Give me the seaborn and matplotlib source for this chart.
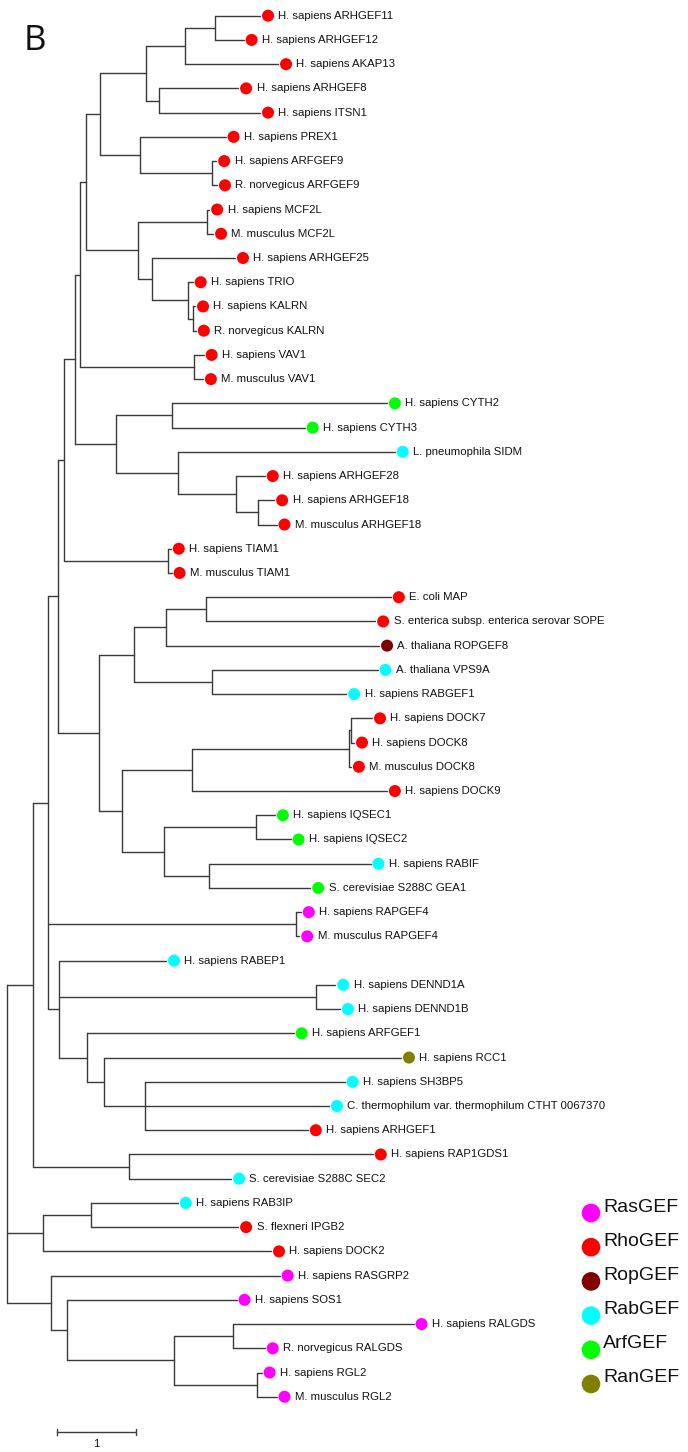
import numpy as np
import pandas as pd
import seaborn as sns
import matplotlib.pyplot as plt

# leaves, top to bottom
leaf_names = [
    "H. sapiens ARHGEF11", "H. sapiens ARHGEF12", "H. sapiens AKAP13",
    "H. sapiens ARHGEF8", "H. sapiens ITSN1", "H. sapiens PREX1",
    "H. sapiens ARFGEF9", "R. norvegicus ARFGEF9", "H. sapiens MCF2L",
    "M. musculus MCF2L", "H. sapiens ARHGEF25", "H. sapiens TRIO",
    "H. sapiens KALRN", "R. norvegicus KALRN", "H. sapiens VAV1",
    "M. musculus VAV1", "H. sapiens CYTH2", "H. sapiens CYTH3",
    "L. pneumophila SIDM", "H. sapiens ARHGEF28", "H. sapiens ARHGEF18",
    "M. musculus ARHGEF18", "H. sapiens TIAM1", "M. musculus TIAM1",
    "E. coli MAP", "S. enterica subsp. enterica serovar SOPE",
    "A. thaliana ROPGEF8", "A. thaliana VPS9A", "H. sapiens RABGEF1",
    "H. sapiens DOCK7", "H. sapiens DOCK8", "M. musculus DOCK8",
    "H. sapiens DOCK9", "H. sapiens IQSEC1", "H. sapiens IQSEC2",
    "H. sapiens RABIF", "S. cerevisiae S288C GEA1", "H. sapiens RAPGEF4",
    "M. musculus RAPGEF4", "H. sapiens RABEP1", "H. sapiens DENND1A",
    "H. sapiens DENND1B", "H. sapiens ARFGEF1", "H. sapiens RCC1",
    "H. sapiens SH3BP5", "C. thermophilum var. thermophilum CTHT 0067370",
    "H. sapiens ARHGEF1", "H. sapiens RAP1GDS1", "S. cerevisiae S288C SEC2",
    "H. sapiens RAB3IP", "S. flexneri IPGB2", "H. sapiens DOCK2",
    "H. sapiens RASGRP2", "H. sapiens SOS1", "H. sapiens RALGDS",
    "R. norvegicus RALGDS", "H. sapiens RGL2", "M. musculus RGL2",
]

leaf_groups = [
    "RhoGEF"] * 16 + [
    "ArfGEF", "ArfGEF", "RabGEF", "RhoGEF", "RhoGEF", "RhoGEF", "RhoGEF",
    "RhoGEF", "RhoGEF", "RhoGEF", "RopGEF", "RabGEF", "RabGEF", "RhoGEF",
    "RhoGEF", "RhoGEF", "RhoGEF", "ArfGEF", "ArfGEF", "RabGEF", "ArfGEF",
    "RasGEF", "RasGEF", "RabGEF", "RabGEF", "RabGEF", "ArfGEF", "RanGEF",
    "RabGEF", "RabGEF", "RhoGEF", "RhoGEF", "RabGEF", "RabGEF", "RhoGEF",
    "RhoGEF", "RasGEF", "RasGEF", "RasGEF", "RasGEF", "RasGEF", "RasGEF",
]

# distance of each leaf from the root (scale units)
leaf_depth = [
    3.23, 3.02, 3.46, 2.95, 3.23, 2.79, 2.67, 2.68, 2.58, 2.63,
    2.91, 2.37, 2.40, 2.41, 2.51, 2.50, 4.85, 3.80, 4.95, 3.29,
    3.41, 3.44, 2.09, 2.10, 4.90, 4.70, 4.75, 4.73, 4.33, 4.66,
    4.43, 4.39, 4.85, 3.42, 3.62, 4.64, 3.87, 3.75, 3.73, 2.03,
    4.19, 4.25, 3.66, 5.03, 4.31, 4.11, 3.84, 4.67, 2.86, 2.18,
    2.95, 3.37, 3.48, 2.93, 5.19, 3.29, 3.25, 3.44,
]

# internal nodes: first leaf, last leaf, distance from root
clade_first = [0, 0, 3, 0, 6, 5, 0, 8, 12, 11, 10, 8, 0, 14, 0, 16, 20, 19,
               18, 16, 0, 22, 0, 24, 24, 27, 24, 29, 29, 29, 33, 35, 33, 29,
               24, 0, 37, 40, 44, 43, 42, 39, 0, 47, 0, 49, 49, 54, 56, 54,
               53, 52, 0]
clade_last = [1, 2, 4, 4, 7, 7, 7, 9, 13, 13, 13, 13, 13, 15, 15, 17, 21, 21,
              21, 21, 21, 23, 23, 25, 26, 28, 28, 30, 31, 32, 34, 36, 36, 36,
              36, 36, 38, 41, 46, 46, 46, 46, 46, 48, 48, 50, 51, 55, 57, 57,
              57, 57, 57]
clade_depth = [2.65, 2.27, 1.94, 1.77, 2.61, 1.69, 1.18, 2.55, 2.37, 2.31,
               1.85, 1.67, 1.00, 2.38, 0.93, 2.10, 3.20, 2.92, 2.18, 1.39,
               0.86, 2.05, 0.72, 2.54, 2.03, 2.61, 1.62, 4.39, 4.36, 2.36,
               3.18, 2.58, 2.00, 1.46, 1.17, 0.65, 3.69, 3.94, 1.76, 1.23,
               1.02, 0.66, 0.52, 1.55, 0.33, 1.07, 0.46, 2.88, 3.19, 2.13,
               0.76, 0.56, 0.00]

legend_groups = ["RasGEF", "RhoGEF", "RopGEF", "RabGEF", "ArfGEF", "RanGEF"]
group_colors = {
    "RasGEF": "#ff00ff", "RhoGEF": "#ff0000", "RopGEF": "#800000",
    "RabGEF": "#00ffff", "ArfGEF": "#00ff00", "RanGEF": "#808000",
}

scale_start = 0.64
scale_length = 1

# --- layout of the tree ---
leaf_y = np.arange(len(leaf_names), dtype=float)
order = sorted(range(len(clade_first)), key=lambda k: clade_last[k] - clade_first[k])
node_y = {}
segments = []
done = []
for k in order:
    lo, hi, d = clade_first[k], clade_last[k], clade_depth[k]
    kids = []
    i = lo
    while i <= hi:
        best = None
        for j in done:
            if clade_first[j] == i and clade_last[j] <= hi:
                if best is None or clade_last[j] > clade_last[best]:
                    best = j
        if best is None:
            kids.append((leaf_depth[i], leaf_y[i]))
            i += 1
        else:
            kids.append((clade_depth[best], node_y[best]))
            i = clade_last[best] + 1
    node_y[k] = (kids[0][1] + kids[-1][1]) / 2
    segments.append([(d, kids[0][1]), (d, kids[-1][1])])
    for cx, cy in kids:
        segments.append([(d, cy), (cx, cy)])
    done.append(k)

rows = []
for n, seg in enumerate(segments):
    for x, y in seg:
        rows.append({"seg": n, "x": x, "y": y})
seg_df = pd.DataFrame(rows)

leaf_df = pd.DataFrame({"name": leaf_names, "group": leaf_groups,
                        "depth": leaf_depth, "y": leaf_y})
leaf_df["dot"] = leaf_df["depth"] + 0.10

# --- drawing ---
sns.set_style("white")
plt.rcParams["font.family"] = ["Liberation Sans", "DejaVu Sans"]

fig = plt.figure(figsize=(6.88, 14.52), dpi=100)
ax = fig.add_axes([0, 0, 1, 1])

sns.lineplot(data=seg_df, x="x", y="y", units="seg", estimator=None,
             sort=False, color="#3a3a3a", linewidth=1.0, ax=ax)
sns.scatterplot(data=leaf_df, x="dot", y="y", hue="group", palette=group_colors,
                s=75, edgecolor="none", legend=False, ax=ax, zorder=3)

for _, r in leaf_df.iterrows():
    ax.annotate(r["name"], (r["dot"], r["y"]), xytext=(7.5, 0),
                textcoords="offset points", ha="left", va="center",
                fontsize=8.2, color="#111111")

# scale bar
yb = 58.45
ax.plot([scale_start, scale_start + scale_length], [yb, yb], color="#3a3a3a", lw=1.0)
for xe in [scale_start, scale_start + scale_length]:
    ax.plot([xe, xe], [yb - 0.13, yb + 0.13], color="#3a3a3a", lw=1.0)
ax.text(scale_start + scale_length / 2, yb + 0.5, str(scale_length),
        ha="center", va="center", fontsize=8, color="#111111")

ax.set_xlim(-0.093, 8.693)
ax.set_ylim(59.28, -0.648)
ax.set_axis_off()

# legend of GEF classes
for i, g in enumerate(legend_groups):
    yl = 1 - (1213 + i * 34.2) / 1452
    ax.scatter([591 / 688], [yl], s=180, color=group_colors[g],
               transform=ax.transAxes, edgecolor="none", clip_on=False)
    ax.text(603 / 688, yl + 6 / 1452, g, transform=ax.transAxes,
            ha="left", va="center", fontsize=14, color="#111111")

fig.text(35 / 688, 1 - 41 / 1452, "B", ha="center", va="center",
         fontsize=25, family=["Open Sans", "DejaVu Sans"], color="#111111")

fig.savefig("out.png", dpi=100)
